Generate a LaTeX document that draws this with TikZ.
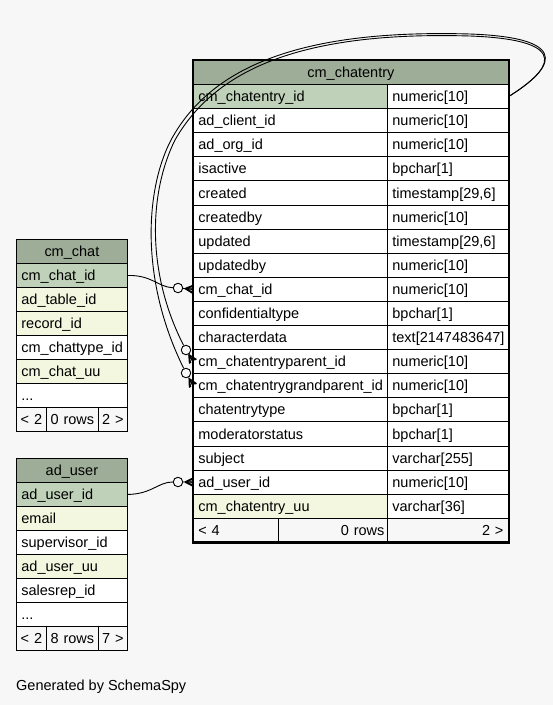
\documentclass[tikz,border=0pt]{standalone}
\usepackage{fontspec}
\setmainfont{Liberation Sans}
\usetikzlibrary{calc}
\definecolor{bgc}{RGB}{247,247,247}
\definecolor{hdr}{RGB}{158,173,151}
\definecolor{pkc}{RGB}{191,209,185}
\definecolor{fkc}{RGB}{244,247,223}
\newcommand\tdots{...}
\newcommand\crowlink[2]{%
  \draw[edge] (#1) -- (#2);
  \coordinate (cb) at ($(#2)!8pt!(#1)$);
  \fill[black] (cb) -- ($(#2)!4pt!90:(#1)$) -- ($(#2)!2pt!90:(#1)$) -- cycle
               (cb) -- ($(#2)!4pt!-90:(#1)$) -- ($(#2)!2pt!-90:(#1)$) -- cycle;
  \draw[line width=1.3] (cb) -- (#2) (cb) -- ($(#2)!4pt!90:(#1)$) (cb) -- ($(#2)!4pt!-90:(#1)$);
}
\begin{document}
\begin{tikzpicture}[x=1pt,y=-1pt,
  every node/.style={font=\fontsize{14.5}{16}\selectfont, text height=11.6, text depth=1.3},
  cell/.style={draw=black, line width=0.8, anchor=north west, minimum height=24.1, inner xsep=5, inner ysep=0, align=left},
  hcell/.style={draw=black, line width=0.8, anchor=north west, minimum height=24.1, inner sep=0, fill=hdr, align=center},
  fcell/.style={draw=black, line width=0.8, anchor=north west, minimum height=24.1, inner xsep=3, inner ysep=0, fill=bgc},
  edge/.style={draw=black, line width=0.9},
  odot/.style={circle, draw=black, line width=0.9, fill=bgc, minimum size=9.5, inner sep=0, text height=0, text depth=0}]
\useasboundingbox[fill=bgc] (0,0) rectangle (553,705);

% ---- cm_chatentry ----
\node[hcell, minimum width=315, text width=315] (ceh) at (193,60) {cm\_chatentry};
\foreach \n/\t/\f [count=\i] in {
  cm\_chatentry\_id/{numeric[10]}/pkc,
  ad\_client\_id/{numeric[10]}/white,
  ad\_org\_id/{numeric[10]}/white,
  isactive/{bpchar[1]}/white,
  created/{timestamp[29,6]}/white,
  createdby/{numeric[10]}/white,
  updated/{timestamp[29,6]}/white,
  updatedby/{numeric[10]}/white,
  cm\_chat\_id/{numeric[10]}/white,
  confidentialtype/{bpchar[1]}/white,
  characterdata/{text[2147483647]}/white,
  cm\_chatentryparent\_id/{numeric[10]}/white,
  cm\_chatentrygrandparent\_id/{numeric[10]}/white,
  chatentrytype/{bpchar[1]}/white,
  moderatorstatus/{bpchar[1]}/white,
  subject/{varchar[255]}/white,
  ad\_user\_id/{numeric[10]}/white,
  cm\_chatentry\_uu/{varchar[36]}/fkc}{
  \node[cell, fill=\f, text width=184] (cl\i) at (193,{84+24.1*(\i-1)}) {\n};
  \node[cell, fill=white, text width=111] (cr\i) at (387,{84+24.1*(\i-1)}) {\t};
}
\node[fcell, minimum width=85, text width=79, align=left] (cf1) at (193,517.8) {\kern2pt< 4};
\node[fcell, minimum width=109, text width=103, align=right] (cf2) at (278,517.8) {0 rows};
\node[fcell, minimum width=121, text width=115, align=right] (cf3) at (387,517.8) {2 >\kern2pt};
\draw[line width=2.6] (ceh.north west) rectangle (cf3.south east);

% ---- cm_chat ----
\node[hcell, minimum width=111, text width=111] (cch) at (16,239) {cm\_chat};
\foreach \n/\f [count=\i] in {
  cm\_chat\_id/pkc, ad\_table\_id/fkc, record\_id/fkc,
  cm\_chattype\_id/white, cm\_chat\_uu/fkc, \tdots/white}{
  \node[cell, fill=\f, text width=101] (cc\i) at (16,{263+24*(\i-1)}) {\n};
}
\node[fcell, minimum width=30, text width=24, align=center] (ccf1) at (16,407) {< 2};
\node[fcell, minimum width=52, text width=46, align=center] (ccf2) at (46,407) {0 rows};
\node[fcell, minimum width=29, text width=23, align=center] (ccf3) at (98,407) {2 >};

% ---- ad_user ----
\node[hcell, minimum width=111, text width=111] (auh) at (16,458) {ad\_user};
\foreach \n/\f [count=\i] in {
  ad\_user\_id/pkc, email/fkc, supervisor\_id/white,
  ad\_user\_uu/fkc, salesrep\_id/white, \tdots/white}{
  \node[cell, fill=\f, text width=101] (au\i) at (16,{482+24*(\i-1)}) {\n};
}
\node[fcell, minimum width=30, text width=24, align=center] (auf1) at (16,626) {< 2};
\node[fcell, minimum width=52, text width=46, align=center] (auf2) at (46,626) {8 rows};
\node[fcell, minimum width=29, text width=23, align=center] (auf3) at (98,626) {7 >};

% ---- connectors ----
\node[odot] (o9) at (178,288) {};
\node[odot] (o17) at (178,482) {};
\node[odot] (o12) at (186,350) {};
\node[odot] (o13) at (186,373) {};

\draw[edge] (cc1.east) .. controls (152,275) and (158,287) .. (o9);
\crowlink{o9}{cl9.west}
\draw[edge] (au1.east) .. controls (152,494) and (158,482) .. (o17);
\crowlink{o17}{cl17.west}

\draw[edge] (cr1.east) .. controls (548,72) and (578,40) .. (470,36)
  .. controls (300,31) and (215,70) .. (175,140)
  .. controls (150,190) and (145,270) .. (o12);
\crowlink{o12}{cl12.west}
\draw[edge] (cr1.east) .. controls (548,72) and (580,38) .. (470,34)
  .. controls (298,29) and (210,68) .. (171,140)
  .. controls (145,190) and (140,280) .. (o13);
\crowlink{o13}{cl13.west}

\node[anchor=west, inner sep=0] (gen) at (16,685) {Generated by SchemaSpy};
\end{tikzpicture}
\end{document}
